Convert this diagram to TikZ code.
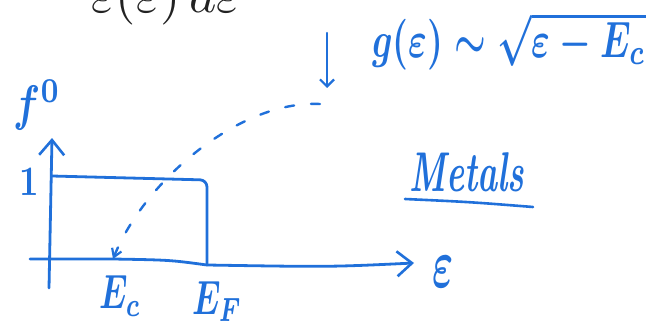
\documentclass[tikz,border=0pt]{standalone}
\usetikzlibrary{arrows.meta}
\definecolor{pen}{RGB}{32,112,218}
\definecolor{ink}{RGB}{34,34,34}
\begin{document}
\begin{tikzpicture}[x=1pt,y=-1pt,
  pen/.style={draw=pen, line width=2.8pt, line cap=round, line join=round},
  barb/.style={-{Straight Barb[length=15pt,width=25pt,line width=2.6pt]}},
  smallbarb/.style={-{Straight Barb[length=8pt,width=10pt,line width=2.2pt]}},
  bluetxt/.style={text=pen, inner sep=0pt, font=\boldmath\bfseries},
]
\useasboundingbox (0,0) rectangle (648,329);
\clip (0,0) rectangle (648,329);

% coordinates
\coordinate (ybot) at (49,288);
\coordinate (ytop) at (52,138);
\coordinate (xleft) at (30,259);
\coordinate (ec) at (113,259);
\coordinate (xright) at (414,263);
\coordinate (s0) at (52,176);
\coordinate (s1) at (207,180);
\coordinate (s2) at (207,265);
\coordinate (dstart) at (320,104);
\coordinate (arrtop) at (327,33);
\coordinate (arrbot) at (327,88);
\coordinate (ul0) at (405,199);
\coordinate (ul1) at (533,207);

% axes
\draw[pen,barb] (ybot) -- (ytop);
\draw[pen,barb] (xleft) -- (ec) .. controls (170,260) .. (s2) .. controls (330,267) .. (xright);

% Fermi step
\draw[pen,rounded corners=7pt] (s0) -- (s1) -- (s2);

% dashed curved arrow
\draw[pen,line width=2.4pt,dash pattern=on 9pt off 17pt,smallbarb]
  (dstart) .. controls (240,100) and (145,180) .. (ec);

% small down arrow
\draw[pen,line width=2.4pt,-{Straight Barb[length=7pt,width=14pt,line width=2.2pt]}] (arrtop) -- (arrbot);

% underline of Metals
\draw[pen,line width=2.6pt] (ul0) .. controls (470,202) .. (ul1);

% texts
\node[bluetxt] (f0) at (37,105) {\scalebox{4}[5]{$f^{0}$}};
\node[bluetxt] (one) at (29,182) {\scalebox{3.4}[4.2]{1}};
\node[bluetxt] (Ec) at (120,296) {\scalebox{3.3}[4.8]{$E_c$}};
\node[bluetxt,anchor=north west] (EF) at (192,281) {\scalebox{3.3}[4.8]{$E_F$}};
\node[bluetxt] (eps) at (443,272) {\scalebox{4}[7]{$\varepsilon$}};
\node[bluetxt] (g) at (509,41) {\scalebox{3.55}[5.1]{$g(\varepsilon)\sim\sqrt{\varepsilon-E_c}$}};
\node[bluetxt] (metals) at (467,172) {\scalebox{3.4}[5.6]{\itshape Metals}};
\node[text=ink,inner sep=0pt,anchor=base] (top) at (166,13) {\scalebox{5.2}[5]{$\varepsilon(\varepsilon)\,d\varepsilon$}};
\end{tikzpicture}
\end{document}
